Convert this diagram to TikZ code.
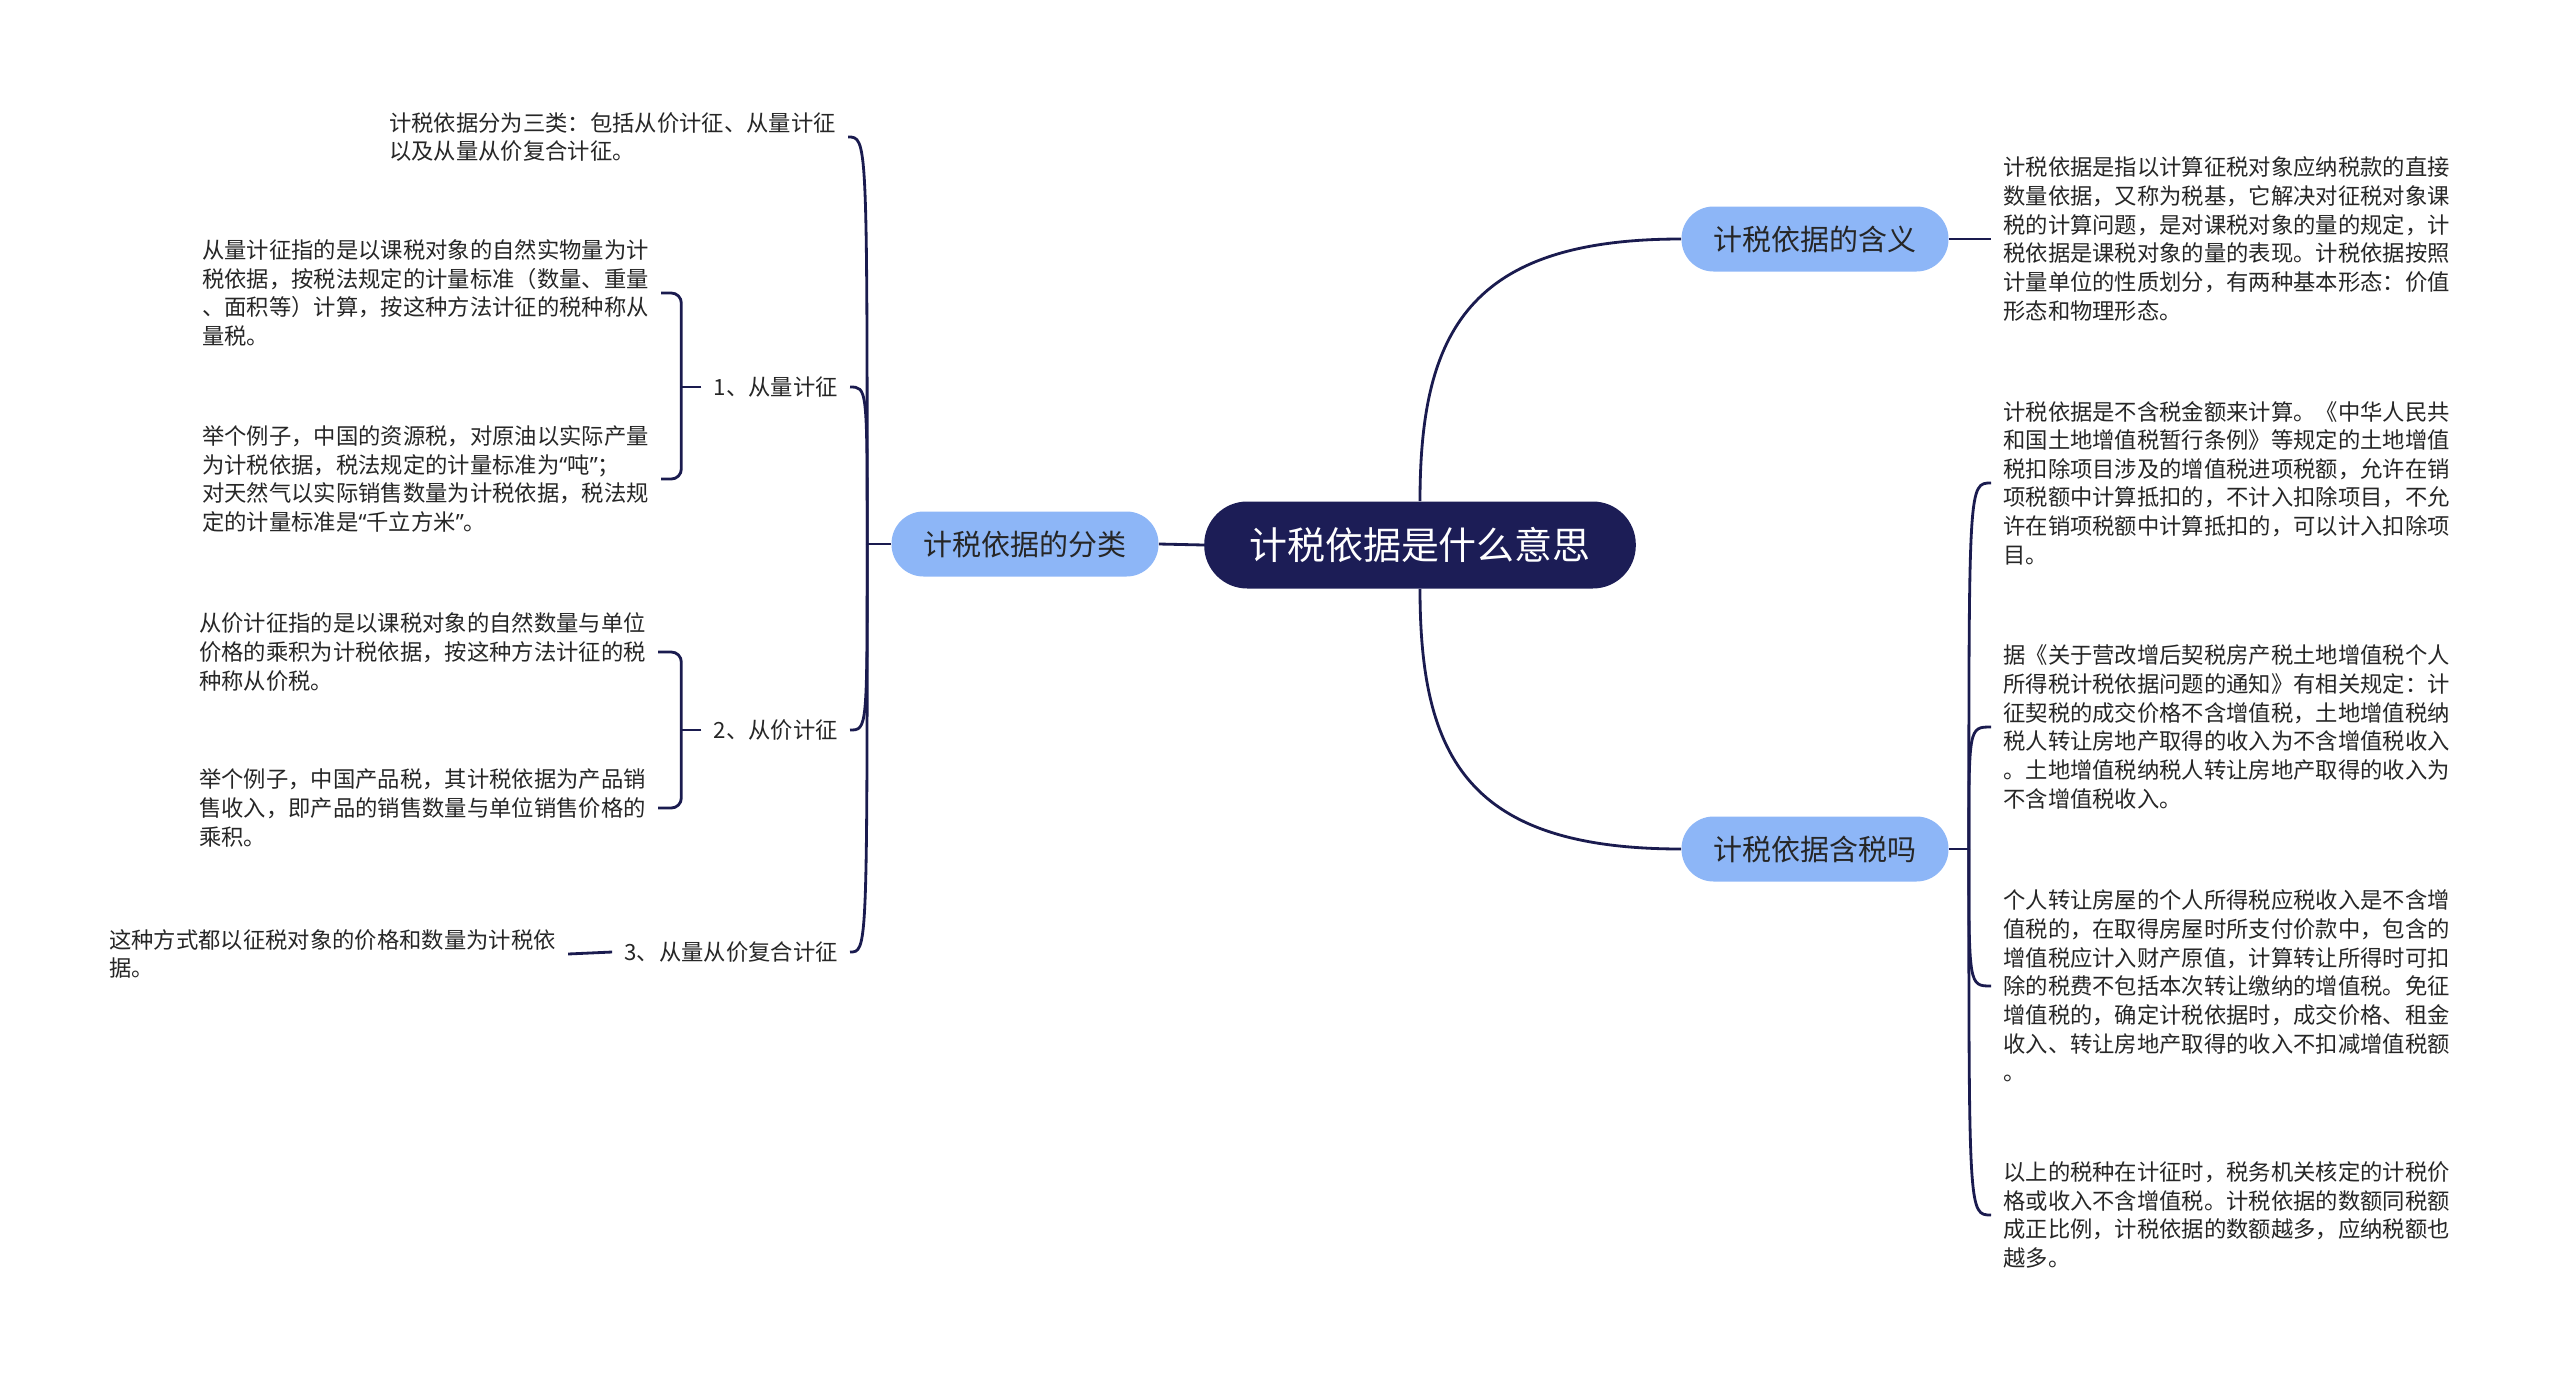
\documentclass[tikz,border=0pt]{standalone}
\usepackage{fontspec}
\setmainfont{Noto Sans CJK SC}
\newfontfamily\quotefont{Noto Sans}
\newcommand{\openq}{{\quotefont “}}
\newcommand{\closeq}{{\quotefont ”}}
\usepackage{tikz}
\usetikzlibrary{positioning,calc}
\definecolor{rootnavy}{HTML}{1C1D56}
\definecolor{topicblue}{HTML}{8DB6F7}
\definecolor{linknavy}{HTML}{1A1B4F}
\definecolor{leafgray}{HTML}{262626}

\begin{document}
\begin{tikzpicture}[
  rootbox/.style={rounded corners=0.86cm,minimum height=1.74cm,inner xsep=0.9cm,
                  fill=rootnavy,text=white,font=\fontsize{21.6}{26}\selectfont},
  topic/.style={rounded corners=0.64cm,minimum height=1.3cm,inner xsep=0.64cm,
                fill=topicblue,text=leafgray,font=\fontsize{16.5}{20}\selectfont},
  leaf/.style={align=left,inner xsep=0.24cm,inner ysep=0pt,text=leafgray,
               font=\fontsize{12.7}{16.3}\selectfont},
  link/.style={line width=1.6pt,color=linknavy},
  brace/.style={link,rounded corners=0.2cm},
]
  \useasboundingbox (0,0) rectangle (51.2,-27.62);

  \node[rootbox] (root) at (28.4,-10.9) {计税依据是什么意思};
  \node[topic] (fenlei) at (20.5,-10.88) {计税依据的分类};
  \node[topic] (hanyi) at (36.3,-4.78) {计税依据的含义};
  \node[topic] (hanshui) at (36.3,-16.98) {计税依据含税吗};

  \coordinate[left=0.48cm of fenlei.west] (hubL);
  \coordinate[right=0.4cm of hanshui.east] (hubR);

  \node[leaf,anchor=west] (sanlei) at (7.54,-2.74) {计税依据分为三类：包括从价计征、从量计征\\以及从量从价复合计征。};
  \node[leaf,anchor=east] (congliang) at (17,-7.74) {1、从量计征};
  \node[leaf,anchor=east] (congjia) at (17,-14.6) {2、从价计征};
  \node[leaf,anchor=east] (fuhe) at (17,-19.04) {3、从量从价复合计征};

  \node[leaf,anchor=west] (liang1) at (3.8,-5.86) {从量计征指的是以课税对象的自然实物量为计\\税依据，按税法规定的计量标准（数量、重量\\、面积等）计算，按这种方法计征的税种称从\\量税。};
  \node[leaf,anchor=west] (liang2) at (3.8,-9.58) {举个例子，中国的资源税，对原油以实际产量\\为计税依据，税法规定的计量标准为\openq 吨\closeq ；\\对天然气以实际销售数量为计税依据，税法规\\定的计量标准是\openq 千立方米\closeq 。};
  \node[leaf,anchor=west] (jia1) at (3.74,-13.04) {从价计征指的是以课税对象的自然数量与单位\\价格的乘积为计税依据，按这种方法计征的税\\种称从价税。};
  \node[leaf,anchor=west] (jia2) at (3.74,-16.16) {举个例子，中国产品税，其计税依据为产品销\\售收入，即产品的销售数量与单位销售价格的\\乘积。};
  \node[leaf,anchor=west] (fuhe1) at (1.94,-19.08) {这种方式都以征税对象的价格和数量为计税依\\据。};

  \node[leaf,anchor=west] (yiyi) at (39.82,-4.78) {计税依据是指以计算征税对象应纳税款的直接\\数量依据，又称为税基，它解决对征税对象课\\税的计算问题，是对课税对象的量的规定，计\\税依据是课税对象的量的表现。计税依据按照\\计量单位的性质划分，有两种基本形态：价值\\形态和物理形态。};
  \node[leaf,anchor=west] (buhan) at (39.82,-9.66) {计税依据是不含税金额来计算。《中华人民共\\和国土地增值税暂行条例》等规定的土地增值\\税扣除项目涉及的增值税进项税额，允许在销\\项税额中计算抵扣的，不计入扣除项目，不允\\许在销项税额中计算抵扣的，可以计入扣除项\\目。};
  \node[leaf,anchor=west] (tongzhi) at (39.82,-14.54) {据《关于营改增后契税房产税土地增值税个人\\所得税计税依据问题的通知》有相关规定：计\\征契税的成交价格不含增值税，土地增值税纳\\税人转让房地产取得的收入为不含增值税收入\\。土地增值税纳税人转让房地产取得的收入为\\不含增值税收入。};
  \node[leaf,anchor=west] (geren) at (39.82,-19.72) {个人转让房屋的个人所得税应税收入是不含增\\值税的，在取得房屋时所支付价款中，包含的\\增值税应计入财产原值，计算转让所得时可扣\\除的税费不包括本次转让缴纳的增值税。免征\\增值税的，确定计税依据时，成交价格、租金\\收入、转让房地产取得的收入不扣减增值税额\\。};
  \node[leaf,anchor=west] (shuizhong) at (39.82,-24.3) {以上的税种在计征时，税务机关核定的计税价\\格或收入不含增值税。计税依据的数额同税额\\成正比例，计税依据的数额越多，应纳税额也\\越多。};

  \draw[link] (root.west) -- (fenlei.east);
  \draw[link] (root.north) .. controls +(0,3.4) and +(-4.24,0) .. (hanyi.west);
  \draw[link] (root.south) .. controls +(0,-3.4) and +(-4.24,0) .. (hanshui.west);

  \draw[link] (fenlei.west) -- (hubL);
  \foreach \k in {sanlei,congliang,congjia,fuhe}
    \draw[link] (hubL) .. controls (hubL |- \k.east) .. (\k.east);

  \coordinate[left=0.4cm of congliang.west] (b1);
  \draw[link] (congliang.west) -- (b1);
  \draw[brace] (liang1.east) -| (b1) |- (liang2.east);

  \coordinate[left=0.4cm of congjia.west] (b2);
  \draw[link] (congjia.west) -- (b2);
  \draw[brace] (jia1.east) -| (b2) |- (jia2.east);

  \draw[link] (fuhe.west) -- (fuhe1.east);

  \draw[link] (hanyi.east) -- (yiyi.west);
  \draw[link] (hanshui.east) -- (hubR);
  \foreach \k in {buhan,tongzhi,geren,shuizhong}
    \draw[link] (hubR) .. controls (hubR |- \k.west) .. (\k.west);
\end{tikzpicture}
\end{document}
